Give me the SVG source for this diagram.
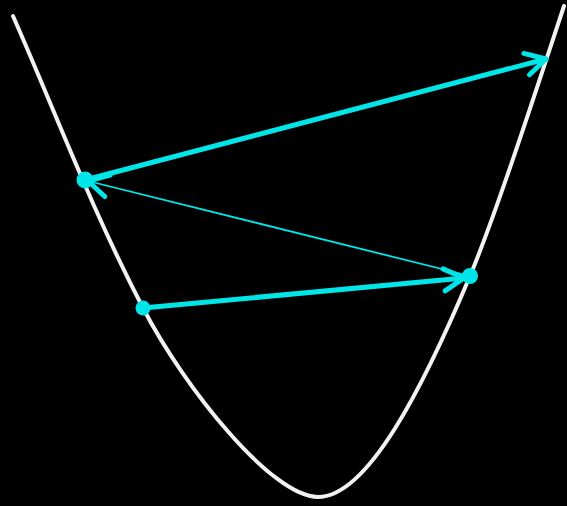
<svg xmlns="http://www.w3.org/2000/svg" width="567" height="506" viewBox="0 0 567 506">
  <defs>
    <style>
      .curve { fill: none; stroke: #f2f2f2; stroke-width: 4; stroke-linecap: round; stroke-linejoin: round; }
      .thick { fill: none; stroke: #00e6e8; stroke-width: 5; stroke-linecap: round; }
      .thin { fill: none; stroke: #00e6e8; stroke-width: 1.8; stroke-linecap: round; }
      .dot { fill: #00e6e8; }
    </style>
    <marker id="head" markerUnits="userSpaceOnUse" viewBox="-26 -16 30 32" refX="0" refY="0" markerWidth="30" markerHeight="32" orient="auto" overflow="visible">
      <path d="M-20,-11 L0,0 L-20,11" fill="none" stroke="#00e6e8" stroke-width="5" stroke-linecap="round" stroke-linejoin="round"/>
    </marker>
  </defs>
  <rect width="567" height="506" fill="#000"/>
  <g id="parabola">
    <path class="curve" d="M13,16 C57,116 91,208 143,308 C184.6,388 272,497 318,497 C368,497 423.8,386 470,276 C495.2,216 534.3,96 564,6"/>
  </g>
  <g id="connectors">
    <line class="thick" x1="85" y1="180" x2="546" y2="59" marker-end="url(#head)"/>
    <line class="thin" x1="470" y1="276" x2="88" y2="181" marker-end="url(#head)"/>
    <line class="thick" x1="143" y1="308" x2="464" y2="278" marker-end="url(#head)"/>
  </g>
  <g id="point-a"><circle class="dot" cx="85" cy="180" r="8.5"/></g>
  <g id="point-b"><circle class="dot" cx="470" cy="276" r="8"/></g>
  <g id="point-c"><circle class="dot" cx="143" cy="308" r="7.5"/></g>
</svg>
